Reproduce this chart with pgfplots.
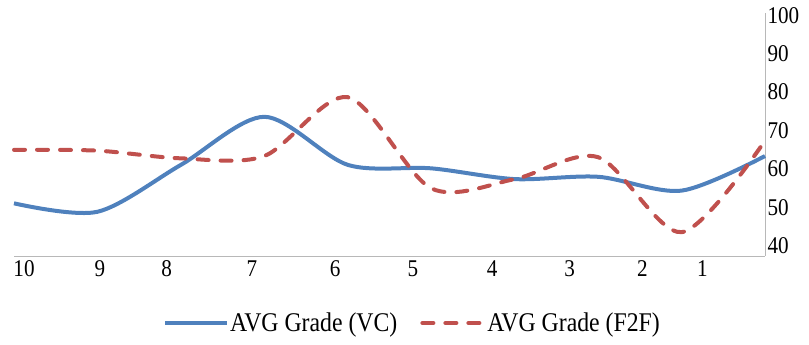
\documentclass[border=0pt]{standalone}
\usepackage{fontspec}
\setmainfont{Liberation Serif}[FakeStretch=0.88]
\usepackage{pgfplots}
\pgfplotsset{compat=1.18}
\definecolor{vcblue}{RGB}{79,129,189}
\definecolor{ffred}{RGB}{192,80,77}
\begin{document}
\begin{tikzpicture}[x=1pt,y=1pt]
\path[use as bounding box] (0,0) rectangle (809,345);
\begin{axis}[
  at={(14pt,89pt)}, anchor=south west,
  width=751pt, height=243pt, scale only axis,
  xmin=0, xmax=9, ymin=37.9, ymax=101.1,
  axis x line=bottom, axis y line=right,
  axis line style={draw=black!28, line width=0.8pt, -},
  major tick length=0pt,
  ytick={40,50,...,100},
  xtick={0.12,1.03,1.83,2.85,3.85,4.78,5.73,6.66,7.53,8.25},
  xticklabels={10,9,8,7,6,5,4,3,2,1},
  /pgf/number format/assume math mode=true,
  tick label style={font=\fontsize{24}{27}\selectfont, text=black},
  yticklabel style={anchor=west, xshift=-1pt, yshift=2pt},
  xticklabel style={yshift=-1pt},
  clip=false,
  legend style={at={(0.53,-0.276)}, anchor=center, draw=none, fill=none,
    font=\fontsize{27}{31}\selectfont, inner sep=0pt,
    /tikz/every even column/.append style={column sep=22pt},
    nodes={inner sep=1pt}},
  legend columns=2,
  legend cell align=left,
  legend image code/.code={\draw[#1] (0pt,0pt) -- (62pt,0pt);},
]
\addplot[vcblue, line width=4pt, smooth, tension=0.5] coordinates {
  (0,51.6) (1,49.4) (2,61.6) (3,74.1) (4,61.6) (5,60.7) (6,57.9) (7,58.5) (8,54.9) (9,63.9)};
\addlegendentry{AVG Grade (VC)}
\addplot[ffred, line width=4pt, smooth, tension=0.5, line cap=round, dash pattern=on 11pt off 12pt] coordinates {
  (0,65.5) (1,65.3) (2,63.3) (3,63.9) (4,79.2) (5,55.5) (6,57.9) (7,63.6) (8,44.1) (9,67.9)};
\addlegendentry{AVG Grade (F2F)}
\end{axis}
\end{tikzpicture}
\end{document}
